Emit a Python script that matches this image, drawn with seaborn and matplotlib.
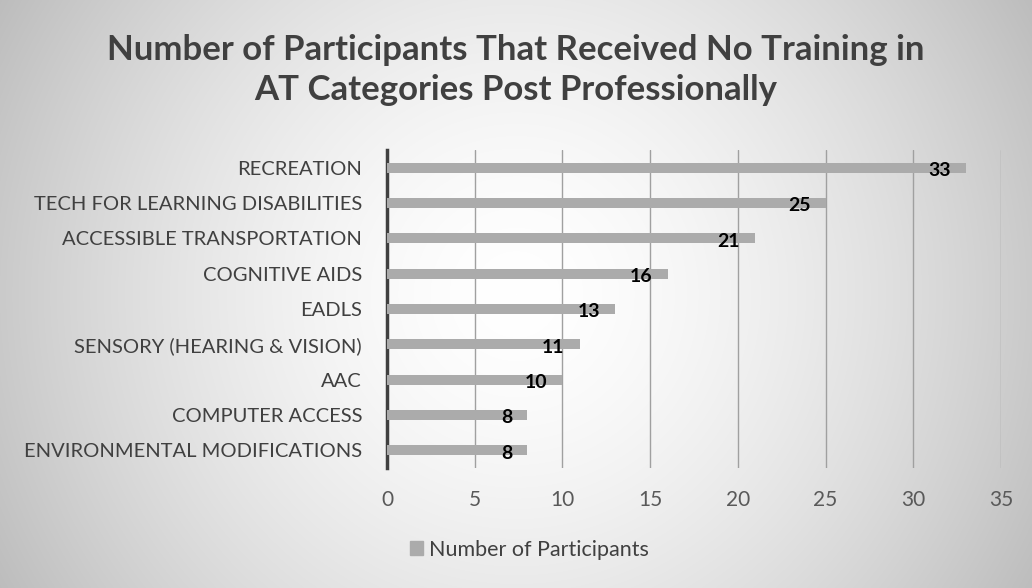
import numpy as np
import pandas as pd
import matplotlib
matplotlib.use("Agg")
import matplotlib.pyplot as plt
import seaborn as sns
from matplotlib.patches import Patch

categories = [
    "RECREATION",
    "TECH FOR LEARNING DISABILITIES",
    "ACCESSIBLE TRANSPORTATION",
    "COGNITIVE AIDS",
    "EADLS",
    "SENSORY (HEARING & VISION)",
    "AAC",
    "COMPUTER ACCESS",
    "ENVIRONMENTAL MODIFICATIONS",
]
participants = [33, 25, 21, 16, 13, 11, 10, 8, 8]
x_ticks = [0, 5, 10, 15, 20, 25, 30, 35]

sns.set_style("white")
plt.rcParams["font.family"] = ["Lato", "DejaVu Sans"]

df = pd.DataFrame({"Categoria": categories, "Participantes": participants})

fig = plt.figure(figsize=(10.32, 5.88), dpi=100)

# fundo com gradiente radial
bg = fig.add_axes([0, 0, 1, 1], zorder=-1)
h, w = 588, 1032
yy, xx = np.mgrid[0:h, 0:w]
r = np.sqrt(((xx - w * 0.5) / (w * 0.5)) ** 2 + ((yy - h * 0.5) / (w * 0.5)) ** 2)
r = r / r.max()
val = 1 - 0.26 * r ** 1.6
bg.imshow(np.dstack([val, val, val]), aspect="auto", extent=[0, 1, 0, 1])
bg.axis("off")

ax = fig.add_axes([0.375, 0.204, 0.595, 0.541])
ax.patch.set_alpha(0)
sns.barplot(data=df, x="Participantes", y="Categoria", color="#ababab",
            width=0.28, saturation=1, linewidth=0, ax=ax, zorder=3)

for i, v in enumerate(participants):
    ax.annotate(str(v), xy=(v, i), xytext=(-11, -2), textcoords="offset points",
                ha="right", va="center", fontsize=14, fontweight="bold",
                color="black", zorder=5)

ax.set_xlim(0, 35)
ax.set_ylim(8.5, -0.5)
ax.set_xticks(x_ticks)
ax.set_xlabel("")
ax.set_ylabel("")
ax.grid(axis="x", color="#a0a0a0", linewidth=1, zorder=0)
ax.grid(axis="y", visible=False)
for s in ["top", "right", "bottom"]:
    ax.spines[s].set_visible(False)
ax.spines["left"].set_color("#404040")
ax.spines["left"].set_linewidth(2.5)
ax.tick_params(axis="y", length=0, pad=18, labelsize=14.5, labelcolor="#404040")
ax.tick_params(axis="x", length=0, pad=16, labelsize=15, labelcolor="#595959")

fig.text(0.5, 0.881, "Number of Participants That Received No Training in\nAT Categories Post Professionally",
         ha="center", va="center", fontsize=25, fontweight="bold", color="#404040",
         linespacing=1.3)

fig.legend(handles=[Patch(color="#ababab", label="Number of Participants")],
           loc="center", bbox_to_anchor=(0.513, 0.065), frameon=False,
           fontsize=15.5, labelcolor="#404040", handlelength=0.6, handleheight=0.6,
           handletextpad=0.3)

fig.savefig("out.png", dpi=100)
